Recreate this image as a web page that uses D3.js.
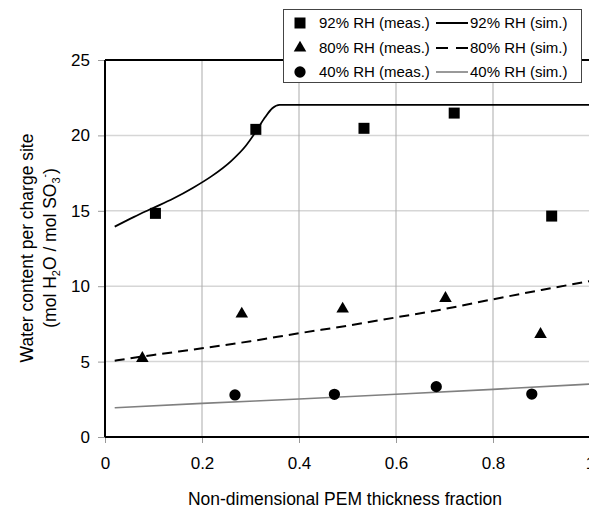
<!DOCTYPE html>
<html><head><meta charset="utf-8">
<script src="https://cdn.jsdelivr.net/npm/d3@7"></script>
<style>
html,body{margin:0;padding:0;background:#fff;}
svg{display:block;font-family:"Liberation Sans",Arial,sans-serif;}
</style></head>
<body>
<svg id="chart" width="589" height="512"></svg>
<script>
// ---- data ----
const xTicks = [0, 0.2, 0.4, 0.6, 0.8, 1];
const yTicks = [0, 5, 10, 15, 20, 25];
const xTickLabels = ["0", "0.2", "0.4", "0.6", "0.8", "1"];

const meas92X = [0.104, 0.311, 0.534, 0.72, 0.921];
const meas92Y = [14.83, 20.4, 20.47, 21.48, 14.65];
const meas80X = [0.077, 0.282, 0.49, 0.702, 0.898];
const meas80Y = [5.22, 8.16, 8.49, 9.2, 6.81];
const meas40X = [0.268, 0.473, 0.683, 0.88];
const meas40Y = [2.79, 2.83, 3.34, 2.85];

const sim92X = [0.02, 0.06, 0.10, 0.14, 0.18, 0.22, 0.26, 0.29, 0.31, 0.33, 0.345, 0.36, 1.0];
const sim92Y = [13.95, 14.6, 15.2, 15.8, 16.5, 17.3, 18.3, 19.3, 20.2, 21.2, 21.8, 22.02, 22.02];
const sim80X = [0.02, 0.1, 0.2, 0.3, 0.4, 0.5, 0.6, 0.7, 0.8, 0.9, 1.0];
const sim80Y = [5.06, 5.44, 5.88, 6.35, 6.88, 7.38, 7.93, 8.49, 9.13, 9.75, 10.34];
const sim40X = [0.02, 0.2, 0.4, 0.6, 0.8, 1.0];
const sim40Y = [1.94, 2.23, 2.52, 2.83, 3.16, 3.51];

const legendMeas = ["92% RH (meas.)", "80% RH (meas.)", "40% RH (meas.)"];
const legendSim = ["92% RH (sim.)", "80% RH (sim.)", "40% RH (sim.)"];

// ---- drawing ----
const svg = d3.select("#chart");
const x = d3.scaleLinear().domain([0, 1]).range([105, 590]);
const y = d3.scaleLinear().domain([0, 25]).range([437, 60]);

// gridlines
svg.append("g").selectAll("line").data(yTicks.filter(d => d > 0 && d < 25)).join("line")
  .attr("x1", x(0)).attr("x2", x(1)).attr("y1", d => y(d)).attr("y2", d => y(d))
  .attr("stroke", "#d6d6d6").attr("stroke-width", 1.5);
svg.append("g").selectAll("line").data(xTicks.filter(d => d > 0)).join("line")
  .attr("x1", d => x(d)).attr("x2", d => x(d)).attr("y1", y(0)).attr("y2", y(25))
  .attr("stroke", "#ababab").attr("stroke-width", 1);

// axes
const yAxis = svg.append("g").attr("transform", `translate(${x(0)},0)`)
  .call(d3.axisLeft(y).tickValues(yTicks).tickSize(7).tickPadding(8).tickFormat(d3.format("d")));
const xAxis = svg.append("g").attr("transform", `translate(0,${y(0)})`)
  .call(d3.axisBottom(x).tickValues(xTicks).tickSize(6).tickPadding(14).tickFormat((d, i) => xTickLabels[i]));
[yAxis, xAxis].forEach(a => {
  a.select(".domain").remove();
  a.selectAll(".tick line").attr("stroke", "#999");
  a.selectAll(".tick text").attr("font-size", 17).attr("fill", "#000")
    .attr("font-family", '"Liberation Sans",Arial,sans-serif');
});

// plot border
svg.append("line").attr("x1", x(0)).attr("x2", x(1)).attr("y1", y(25)).attr("y2", y(25)).attr("stroke", "#000").attr("stroke-width", 2);
svg.append("line").attr("x1", x(0)).attr("x2", x(1)).attr("y1", y(0)).attr("y2", y(0)).attr("stroke", "#000").attr("stroke-width", 2);
svg.append("line").attr("x1", x(0)).attr("x2", x(0)).attr("y1", y(0)).attr("y2", y(25)).attr("stroke", "#000").attr("stroke-width", 2);

// sim lines
const line = d3.line().x(d => x(d[0])).y(d => y(d[1])).curve(d3.curveMonotoneX);
const zip = (a, b) => a.map((v, i) => [v, b[i]]);
svg.append("path").datum(zip(sim92X, sim92Y)).attr("d", line).attr("fill", "none").attr("stroke", "#000").attr("stroke-width", 1.8);
svg.append("path").datum(zip(sim80X, sim80Y)).attr("d", line).attr("fill", "none").attr("stroke", "#000").attr("stroke-width", 2).attr("stroke-dasharray", "10,6");
svg.append("path").datum(zip(sim40X, sim40Y)).attr("d", line).attr("fill", "none").attr("stroke", "#808080").attr("stroke-width", 1.6);

// markers
const sq = d3.symbol().type(d3.symbolSquare).size(121);
const tri = d3.symbol().type(d3.symbolTriangle).size(68);
const cir = d3.symbol().type(d3.symbolCircle).size(100);
function markers(xs, ys, sym) {
  svg.append("g").selectAll("path").data(zip(xs, ys)).join("path")
    .attr("d", sym).attr("transform", d => `translate(${x(d[0])},${y(d[1])})`).attr("fill", "#000");
}
markers(meas92X, meas92Y, sq);
markers(meas80X, meas80Y, tri);
markers(meas40X, meas40Y, cir);

// legend
const lg = svg.append("g");
lg.append("rect").attr("x", 283.5).attr("y", 9.5).attr("width", 298).attr("height", 73)
  .attr("fill", "#fff").attr("stroke", "#444").attr("stroke-width", 1);
const rowsY = [23, 48, 72];
const syms = [sq, tri, cir];
const dashes = [null, "12,8", null];
const cols = ["#000", "#000", "#808080"];
const widths = [2, 2, 1.6];
rowsY.forEach((ry, i) => {
  lg.append("path").attr("d", syms[i]).attr("transform", `translate(300,${ry})`).attr("fill", "#000");
  lg.append("text").attr("x", 319).attr("y", ry).attr("dy", "0.35em").attr("font-size", 15).text(legendMeas[i]);
  lg.append("line").attr("x1", 436).attr("x2", 468).attr("y1", ry).attr("y2", ry)
    .attr("stroke", cols[i]).attr("stroke-width", widths[i]).attr("stroke-dasharray", dashes[i]);
  lg.append("text").attr("x", 470).attr("y", ry).attr("dy", "0.35em").attr("font-size", 15).text(legendSim[i]);
});

// axis titles
svg.append("text").attr("x", 345).attr("y", 505).attr("text-anchor", "middle").attr("font-size", 17.5)
  .text("Non-dimensional PEM thickness fraction");
svg.append("text").attr("transform", "translate(0,248) rotate(-90)").attr("text-anchor", "middle")
  .attr("font-size", 17.5).attr("y", 33).text("Water content per charge site");
const t2 = svg.append("text").attr("transform", "translate(0,248) rotate(-90)").attr("text-anchor", "middle").attr("font-size", 17.5).attr("y", 56);
t2.append("tspan").text("(mol H");
t2.append("tspan").attr("font-size", 11).attr("dy", 4).text("2");
t2.append("tspan").attr("dy", -4).text("O / mol SO");
t2.append("tspan").attr("font-size", 11).attr("dy", 4).text("3");
t2.append("tspan").attr("font-size", 10).attr("dy", -12).text("-");
t2.append("tspan").attr("dy", 8).text(")");
</script>
</body></html>
